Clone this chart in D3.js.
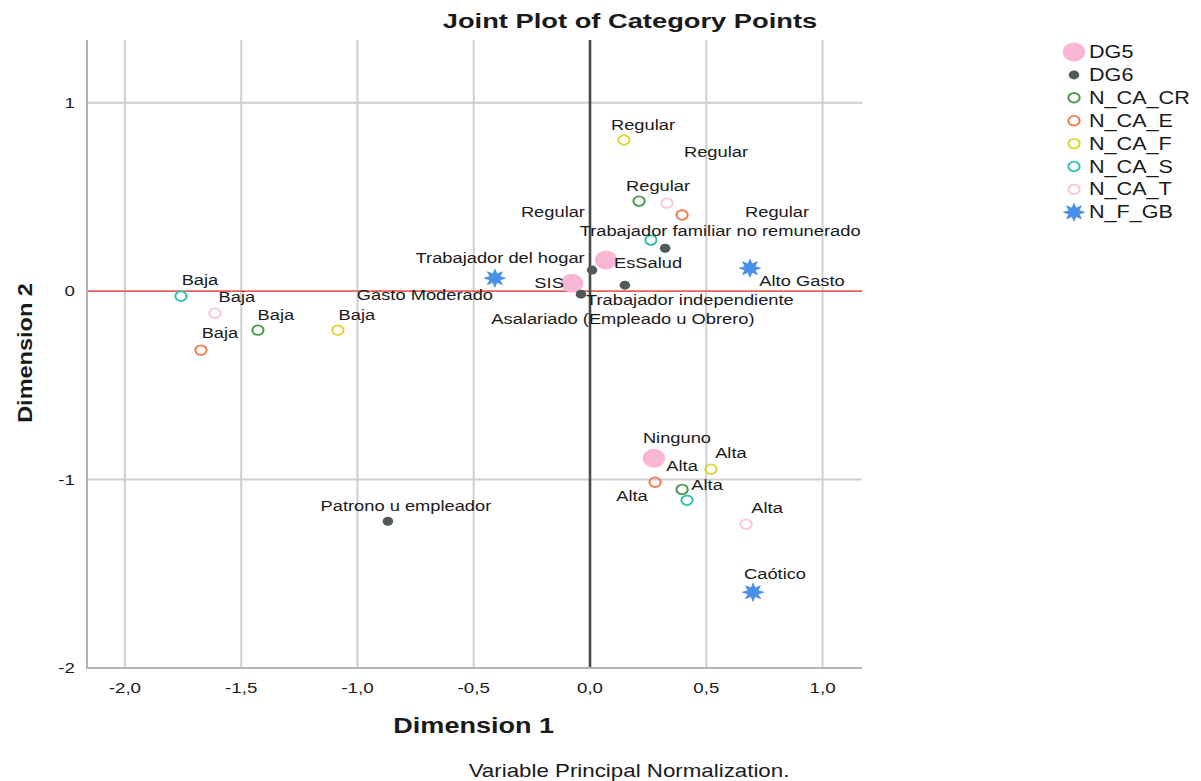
<!DOCTYPE html>
<html>
<head>
<meta charset="utf-8">
<script src="https://cdn.jsdelivr.net/npm/d3@7"></script>
<style>
  html, body { margin: 0; padding: 0; background: #fff; }
  svg { display: block; font-family: "Liberation Sans", Arial, sans-serif; }
</style>
</head>
<body>
<svg id="chart" width="1201" height="781"></svg>
<script>
// ---- Category point coordinates (Dimension 1, Dimension 2) ----
const seriesNames = ["DG5", "DG6", "N_CA_CR", "N_CA_E", "N_CA_F", "N_CA_S", "N_CA_T", "N_F_GB"];

const dg5Labels = ["SIS", "EsSalud", "Ninguno"];
const dg5Dim1 = [-0.077, 0.069, 0.275];
const dg5Dim2 = [0.042, 0.165, -0.887];

const dg6Labels = ["Trabajador del hogar", "Trabajador familiar no remunerado", "Trabajador independiente",
                   "Asalariado (Empleado u Obrero)", "Patrono u empleador"];
const dg6Dim1 = [0.009, 0.323, 0.150, -0.039, -0.869];
const dg6Dim2 = [0.112, 0.228, 0.032, -0.016, -1.221];

const levelLabels = ["Baja", "Regular", "Alta"];
const crDim1 = [-1.428, 0.211, 0.396];
const crDim2 = [-0.207, 0.478, -1.052];
const eDim1 = [-1.673, 0.396, 0.280];
const eDim2 = [-0.313, 0.404, -1.014];
const fDim1 = [-1.084, 0.146, 0.520];
const fDim2 = [-0.207, 0.802, -0.945];
const sDim1 = [-1.759, 0.262, 0.417];
const sDim2 = [-0.027, 0.271, -1.110];
const tDim1 = [-1.613, 0.331, 0.671];
const tDim2 = [-0.117, 0.467, -1.237];

const gbLabels = ["Gasto Moderado", "Alto Gasto", "Caótico"];
const gbDim1 = [-0.409, 0.688, 0.701];
const gbDim2 = [0.069, 0.122, -1.598];

const xTicks = [-2.0, -1.5, -1.0, -0.5, 0.0, 0.5, 1.0];
const yTicks = [-2, -1, 0, 1];

// ---- Styling ----
const styles = {
  DG5:     { shape: "dot",  r: 9.5, fill: "#f9b6d5" },
  DG6:     { shape: "dot",  r: 4.5, fill: "#505a56" },
  N_CA_CR: { shape: "ring", r: 4.8, stroke: "#4a9b4c" },
  N_CA_E:  { shape: "ring", r: 4.8, stroke: "#f27d4e" },
  N_CA_F:  { shape: "ring", r: 4.8, stroke: "#e3d532" },
  N_CA_S:  { shape: "ring", r: 4.8, stroke: "#33c3b3" },
  N_CA_T:  { shape: "ring", r: 4.8, stroke: "#fbc6dc" },
  N_F_GB:  { shape: "star", r: 9,   fill: "#4a8fe6" }
};

// label offsets from the marker (pixels, label centre / middle)
const labelOffsets = {
  DG5: [[-23, 0], [42, 3], [23, -20]],
  DG6: [[-92, -12], [55, -17], [65, 15], [42, 25], [18, -15]],
  N_CA_CR: [[18, -15], [19, -15], [25, -4]],
  N_CA_E: [[19, -17], [95, -3], [27, -16]],
  N_CA_F: [[19, -15], [19, -15], [20, -16]],
  N_CA_S: [[19, -16], [-98, -28], [-55, -4]],
  N_CA_T: [[22, -16], [49, -51], [21, -16]],
  N_F_GB: [[-70, 17], [52, 13], [22, -18]]
};

const SX = 1.17;          // horizontal stretch applied to markers
const plot = { left: 87, right: 860, top: 40, bottom: 668 };

const svg = d3.select("#chart");

const x = d3.scaleLinear().domain([-2.163, 1.161]).range([plot.left, plot.right]);
const y = d3.scaleLinear().domain([-2, 1.333]).range([plot.bottom, plot.top]);

// build point records
function mk(series, labels, d1, d2) {
  return labels.map((lab, i) => ({ series, label: lab, d1: d1[i], d2: d2[i], off: labelOffsets[series][i] }));
}
const points = [].concat(
  mk("DG5", dg5Labels, dg5Dim1, dg5Dim2),
  mk("DG6", dg6Labels, dg6Dim1, dg6Dim2),
  mk("N_CA_CR", levelLabels, crDim1, crDim2),
  mk("N_CA_E", levelLabels, eDim1, eDim2),
  mk("N_CA_F", levelLabels, fDim1, fDim2),
  mk("N_CA_S", levelLabels, sDim1, sDim2),
  mk("N_CA_T", levelLabels, tDim1, tDim2),
  mk("N_F_GB", gbLabels, gbDim1, gbDim2)
);

// horizontally stretched text helper
function stext(g, tx, ty, str, opts) {
  const sx = opts.sx || 1.22;
  const rot = opts.rotate ? ` rotate(${opts.rotate})` : "";
  return g.append("text")
    .attr("transform", `translate(${tx},${ty})${rot} scale(${sx},1)`)
    .attr("text-anchor", opts.anchor || "middle")
    .attr("font-size", opts.size)
    .attr("font-weight", opts.weight || "normal")
    .attr("fill", opts.fill || "#1a1a1a")
    .text(str);
}

// 8-spike burst marker
function starPath(r) {
  const pts = [];
  for (let i = 0; i < 16; i++) {
    const a = -Math.PI / 2 + i * Math.PI / 8;
    const rr = i % 2 === 0 ? r : r * 0.5;
    pts.push([Math.cos(a) * rr, Math.sin(a) * rr]);
  }
  return d3.line()(pts) + "Z";
}

function drawMarker(g, cx, cy, st) {
  const m = g.append("g").attr("transform", `translate(${cx},${cy}) scale(${SX},1)`);
  if (st.shape === "dot") m.append("circle").attr("r", st.r).attr("fill", st.fill);
  else if (st.shape === "ring") m.append("circle").attr("r", st.r).attr("fill", "none").attr("stroke", st.stroke).attr("stroke-width", 1.8);
  else m.append("path").attr("d", starPath(st.r)).attr("fill", st.fill).attr("stroke", st.fill).attr("stroke-width", 0.8).attr("stroke-linejoin", "round");
}

// ---- Grid ----
const grid = svg.append("g");
grid.selectAll("line.vx").data(xTicks.filter(v => v !== 0)).join("line")
  .attr("x1", d => x(d)).attr("x2", d => x(d))
  .attr("y1", plot.top).attr("y2", plot.bottom)
  .attr("stroke", "#cfcfcf").attr("stroke-width", 2);
grid.selectAll("line.hy").data(yTicks.filter(v => v !== 0 && v !== -2)).join("line")
  .attr("x1", plot.left).attr("x2", plot.right + 2)
  .attr("y1", d => y(d)).attr("y2", d => y(d))
  .attr("stroke", "#cfcfcf").attr("stroke-width", 2);

// reference lines through the origin
svg.append("line").attr("x1", plot.left).attr("x2", plot.right + 2)
  .attr("y1", y(0)).attr("y2", y(0)).attr("stroke", "#e8605c").attr("stroke-width", 1.6);
svg.append("line").attr("x1", x(0)).attr("x2", x(0))
  .attr("y1", plot.top).attr("y2", plot.bottom).attr("stroke", "#4a4a4a").attr("stroke-width", 2.6);

// axes lines
svg.append("line").attr("x1", plot.left).attr("x2", plot.left).attr("y1", plot.top).attr("y2", plot.bottom + 1)
  .attr("stroke", "#b4b4b4").attr("stroke-width", 2);
svg.append("line").attr("x1", plot.left - 1).attr("x2", plot.right + 2).attr("y1", plot.bottom).attr("y2", plot.bottom)
  .attr("stroke", "#b4b4b4").attr("stroke-width", 2);

// ---- Tick labels ----
const fmtX = d => d3.format(".1f")(d).replace(".", ",").replace("−", "-");
const tickG = svg.append("g");
xTicks.forEach(v => stext(tickG, x(v), plot.bottom + 25, fmtX(v), { size: 15, sx: 1.25 }));
yTicks.forEach(v => stext(tickG, plot.left - 12, y(v) + 5, String(v), { size: 15, sx: 1.25, anchor: "end" }));

// ---- Titles ----
stext(svg, 630, 28, "Joint Plot of Category Points", { size: 21, weight: "bold", sx: 1.3 });
stext(svg, x(-0.5), 733, "Dimension 1", { size: 22, weight: "bold", sx: 1.23 });
stext(svg, 32, 353, "Dimension 2", { size: 21, weight: "bold", sx: 1.12, rotate: -90 });
stext(svg, 629, 777, "Variable Principal Normalization.", { size: 18, sx: 1.24 });

// ---- Points and labels ----
const pg = svg.append("g");
points.forEach(p => {
  drawMarker(pg, x(p.d1), y(p.d2), styles[p.series]);
});
points.forEach(p => {
  stext(pg, x(p.d1) + p.off[0], y(p.d2) + p.off[1] + 5, p.label, { size: 15, sx: 1.22 });
});

// ---- Legend ----
const lg = svg.append("g");
seriesNames.forEach((s, i) => {
  const ly = 52 + i * 22.9;
  drawMarker(lg, 1074, ly, styles[s]);
  stext(lg, 1089, ly + 6, s, { size: 18, sx: 1.2, anchor: "start" });
});
</script>
</body>
</html>
